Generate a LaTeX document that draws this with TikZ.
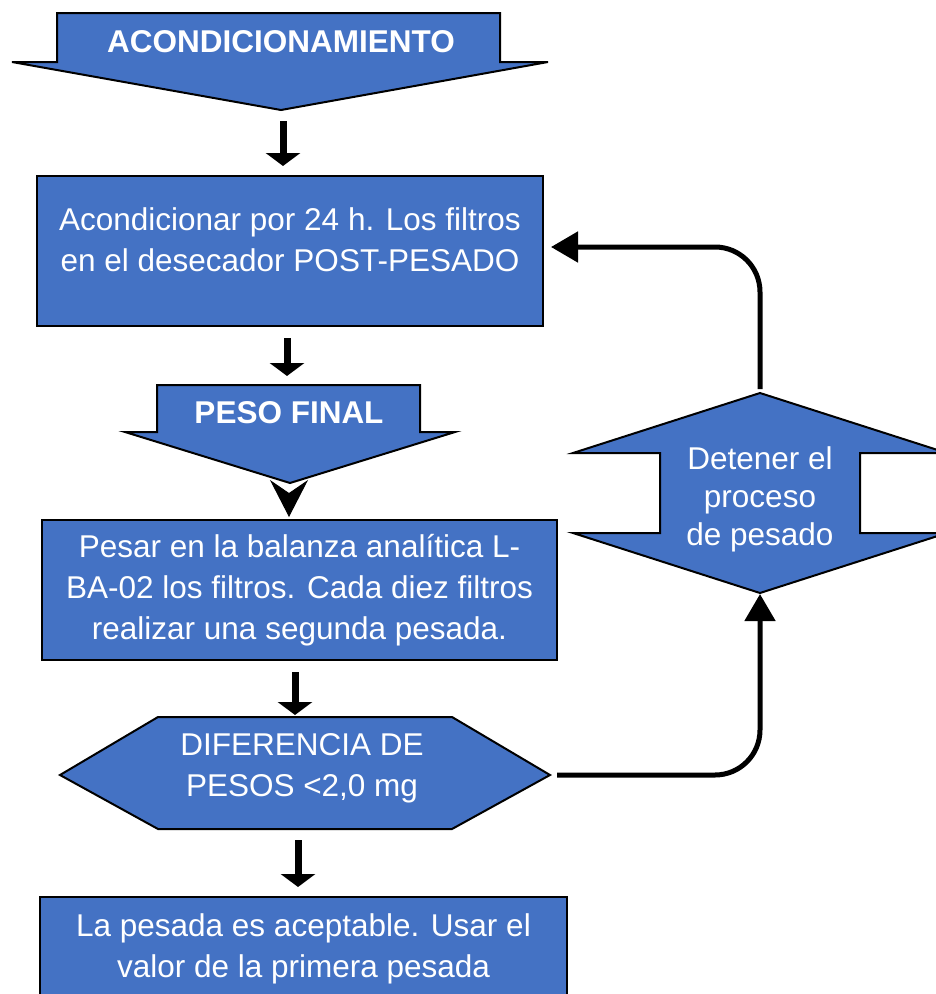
\documentclass[tikz,border=0pt]{standalone}
\usepackage{fontspec}
\setmainfont{Liberation Sans}
\usetikzlibrary{arrows.meta}
\definecolor{azul}{RGB}{68,114,196}
\newcommand\fsz{\fontsize{31.5}{41}\selectfont}
\tikzset{
  blk/.style={draw=black, line width=2pt, fill=azul, line join=miter},
  box/.style={blk, rectangle, inner sep=0pt},
  txt/.style={text=white, align=center, font=\fsz, inner sep=0pt},
  head/.style={txt, font=\fsz\bfseries},
  flow/.style={-{Triangle[length=13pt,width=34pt]}, line width=7pt, shorten <=11pt, shorten >=9pt},
  back/.style={-{Triangle[length=27pt,width=30pt]}, line width=5pt, rounded corners=45pt},
  chev/.style={-{Stealth[length=37pt,width=38pt,inset=13pt]}, line width=1pt, shorten <=20pt}
}
\begin{document}
\begin{tikzpicture}[x=1pt, y=-1pt]
\useasboundingbox (0,0) rectangle (936,994);

% acondicionamiento
\draw[blk] (57,13) -- (500,13) -- (500,62) -- (548,62) -- (281,110) -- (12,62) -- (57,62) -- cycle;
\node[head] (acond) at (281,42) {ACONDICIONAMIENTO};
\coordinate (acondtip) at (283,110);

\node[box, minimum width=506pt, minimum height=150pt] (cond) at (290,251) {};
\node[txt] (condtxt) at (290,240) {Acondicionar por 24 h. Los filtros\\en el desecador POST-PESADO};

% peso final
\draw[blk] (157,385) -- (420,385) -- (420,432) -- (455,432) -- (290,483) -- (125,432) -- (157,432) -- cycle;
\node[head] (peso) at (289,413) {PESO FINAL};
\coordinate (pesotop) at (287,385);
\coordinate (pesotip) at (289,481);

\node[box, minimum width=515pt, minimum height=140pt, txt] (pesar) at (299.5,590)
  {Pesar en la balanza analítica L-\\BA-02 los filtros. Cada diez filtros\\realizar una segunda pesada.};

% diferencia
\draw[blk] (60,775) -- (158,717) -- (452,717) -- (550,775) -- (452,829) -- (158,829) -- cycle;
\node[txt] (dif) at (302,768) {DIFERENCIA DE\\PESOS <2,0 mg};
\coordinate (hext) at (295,717);
\coordinate (hexb) at (298,829);
\coordinate (hexr) at (550,775);

\node[box, minimum width=527pt, minimum height=104pt, txt] (acepta) at (303.5,949)
  {La pesada es aceptable. Usar el\\valor de la primera pesada};

% detener
\draw[blk] (760,393) -- (947,453) -- (860,453) -- (860,533) -- (947,533) -- (760,593)
  -- (573,533) -- (660,533) -- (660,453) -- (573,453) -- cycle;
\node[txt, font=\fontsize{31.5}{38}\selectfont] (det) at (760,499) {Detener el\\proceso\\de pesado};
\coordinate (dett) at (760,393);
\coordinate (detb) at (760,593);

\draw[flow] (acondtip) -- (acondtip |- cond.north);
\draw[flow] (pesotop |- cond.south) -- (pesotop);
\draw[chev] (pesotip) -- ([yshift=2pt]pesotip |- pesar.north);
\draw[flow] (hext |- pesar.south) -- (hext) [shorten >=2pt];
\draw[flow] (hexb) -- (hexb |- acepta.north);
\draw[back, shorten <=7pt, shorten >=1pt] (hexr) -| (detb);
\draw[back, shorten <=4pt, shorten >=7pt] (dett) |- ([yshift=4pt]cond.east);
\end{tikzpicture}
\end{document}
